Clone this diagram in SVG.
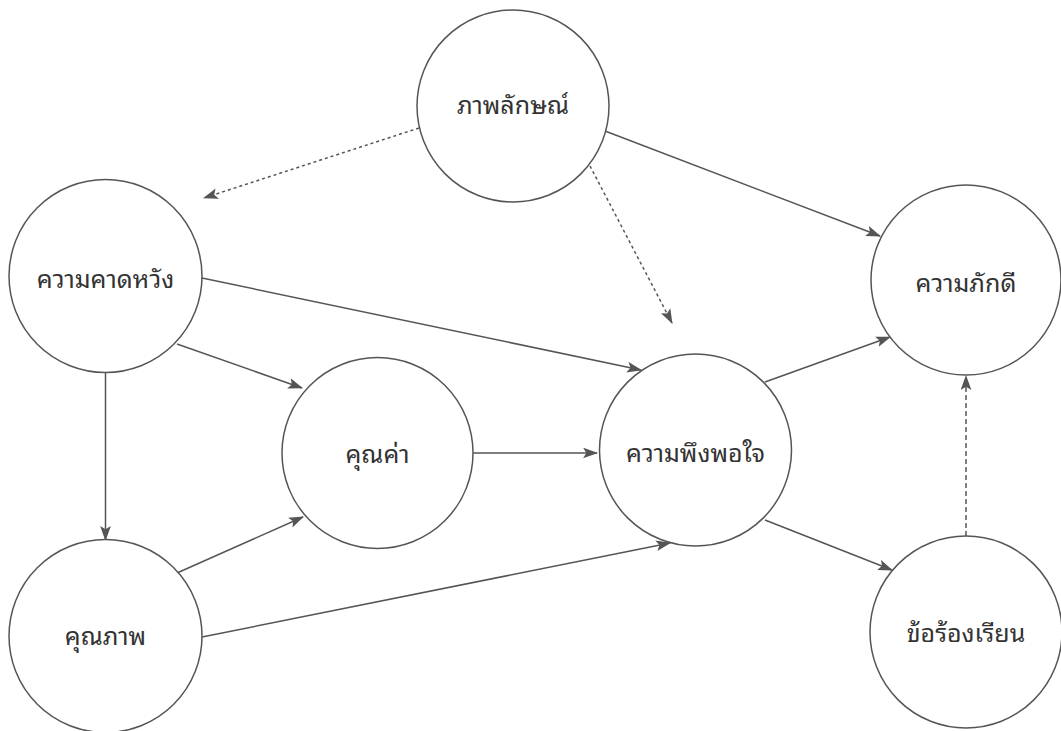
<svg xmlns="http://www.w3.org/2000/svg" width="1061" height="731" viewBox="0 0 1061 731">
<style>
.node circle{fill:#fff;stroke:#555;stroke-width:1.5}
.node text{font-family:"Noto Sans Thai Looped","Noto Sans Thai","Noto Sans","DejaVu Sans",sans-serif;font-size:25px;fill:#333;text-anchor:middle}
.edge{stroke:#555;stroke-width:1.5;fill:none;marker-end:url(#ah)}
.dot{stroke-dasharray:3 3}
.dash{stroke-dasharray:5 3}
</style>
<defs>
<marker id="ah" viewBox="0 0 14 10" refX="13" refY="5" markerWidth="15" markerHeight="11" markerUnits="userSpaceOnUse" orient="auto">
<path d="M0,0 L14,5 L0,10 L3,5 z" fill="#555"/>
</marker>
</defs>
<rect width="1061" height="731" fill="#fff"/>
<g id="connectors">
<path class="edge dot" d="M419,128 L204,198"/>
<path class="edge dot" d="M590,166 L672,323"/>
<path class="edge" d="M605,131 L880,236"/>
<path class="edge" d="M202,278 L641,370"/>
<path class="edge" d="M177,344 L302,388"/>
<path class="edge" d="M105.5,372 L105.5,540"/>
<path class="edge" d="M473,453 L597,453"/>
<path class="edge" d="M177,573 L303,517"/>
<path class="edge" d="M202,637 L670,543"/>
<path class="edge" d="M765,382 L890,337"/>
<path class="edge" d="M765,520 L892,570"/>
<path class="edge dash" d="M966,536 L966,376"/>
</g>
<g id="n-image" class="node"><circle cx="513" cy="106" r="96"/><text x="513" y="114">ภาพลักษณ์</text></g>
<g id="n-expect" class="node"><circle cx="105.5" cy="276" r="96.5"/><text x="105.5" y="288">ความคาดหวัง</text></g>
<g id="n-loyal" class="node"><circle cx="966" cy="280" r="95"/><text x="966" y="292">ความภักดี</text></g>
<g id="n-value" class="node"><circle cx="377.5" cy="453" r="95.5"/><text x="377.5" y="463">คุณค่า</text></g>
<g id="n-satis" class="node"><circle cx="695.5" cy="450" r="96"/><text x="695.5" y="462">ความพึงพอใจ</text></g>
<g id="n-quality" class="node"><circle cx="105.5" cy="636" r="96.5"/><text x="105.5" y="645">คุณภาพ</text></g>
<g id="n-complain" class="node"><circle cx="966" cy="632" r="96"/><text x="966" y="642">ข้อร้องเรียน</text></g>
</svg>
